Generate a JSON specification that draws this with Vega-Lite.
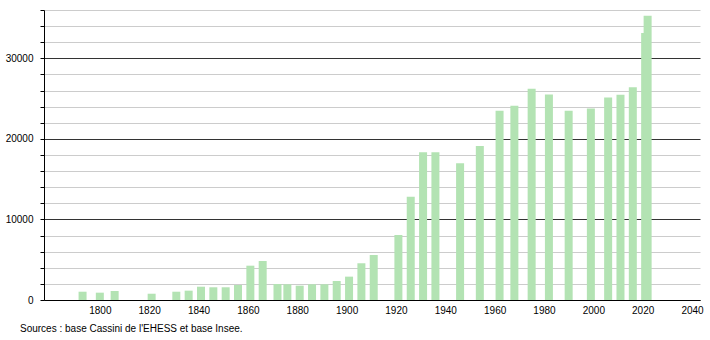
{
  "$schema": "https://vega.github.io/schema/vega-lite/v6.json",
  "width": 656,
  "height": 290,
  "autosize": {"type": "none"},
  "padding": {"left": 44, "top": 10, "right": 10, "bottom": 40},
  "background": "white",
  "config": {"view": {"stroke": null}, "font": "Liberation Sans"},
  "data": {"values": [
    {"year": 1793, "pop": 1030},
    {"year": 1800, "pop": 910},
    {"year": 1806, "pop": 1120},
    {"year": 1821, "pop": 780},
    {"year": 1831, "pop": 1030},
    {"year": 1836, "pop": 1160},
    {"year": 1841, "pop": 1650},
    {"year": 1846, "pop": 1580},
    {"year": 1851, "pop": 1580},
    {"year": 1856, "pop": 1860},
    {"year": 1861, "pop": 4260},
    {"year": 1866, "pop": 4840},
    {"year": 1872, "pop": 1990},
    {"year": 1876, "pop": 1950},
    {"year": 1881, "pop": 1780},
    {"year": 1886, "pop": 1950},
    {"year": 1891, "pop": 1950},
    {"year": 1896, "pop": 2360},
    {"year": 1901, "pop": 2900},
    {"year": 1906, "pop": 4560},
    {"year": 1911, "pop": 5590},
    {"year": 1921, "pop": 8070},
    {"year": 1926, "pop": 12830},
    {"year": 1931, "pop": 18340},
    {"year": 1936, "pop": 18340},
    {"year": 1946, "pop": 16980},
    {"year": 1954, "pop": 19130},
    {"year": 1962, "pop": 23480},
    {"year": 1968, "pop": 24100},
    {"year": 1975, "pop": 26210},
    {"year": 1982, "pop": 25500},
    {"year": 1990, "pop": 23480},
    {"year": 1999, "pop": 23770},
    {"year": 2006, "pop": 25130},
    {"year": 2011, "pop": 25470},
    {"year": 2016, "pop": 26420},
    {"year": 2021, "pop": 33130},
    {"year": 2022, "pop": 35280}
  ]},
  "layer": [
    {
      "mark": {"type": "bar", "width": 8, "color": "#b3e3b3"},
      "encoding": {
        "x": {
          "field": "year", "type": "quantitative",
          "scale": {"domain": [1779.4, 2041.2], "nice": false, "zero": false},
          "axis": {
            "title": null,
            "values": [1800, 1820, 1840, 1860, 1880, 1900, 1920, 1940, 1960, 1980, 2000, 2020, 2040],
            "format": "d",
            "ticks": false,
            "grid": false,
            "domainColor": "#000000",
            "domainWidth": 1,
            "labelFontSize": 10,
            "labelColor": "#000000",
            "labelPadding": 5,
            "labelFont": "Liberation Sans"
          }
        },
        "y": {
          "field": "pop", "type": "quantitative",
          "scale": {"domain": [0, 36000], "nice": false},
          "axis": {
            "title": null,
            "values": [0, 2000, 4000, 6000, 8000, 10000, 12000, 14000, 16000, 18000, 20000, 22000, 24000, 26000, 28000, 30000, 32000, 34000, 36000],
            "labelExpr": "datum.value % 10000 === 0 ? datum.value : ''",
            "grid": true,
            "gridColor": {"condition": {"test": "datum.value % 10000 === 0", "value": "#333333"}, "value": "#cccccc"},
            "gridWidth": 1,
            "domainColor": "#000000",
            "tickColor": "#000000",
            "tickSize": 4,
            "labelFontSize": 10,
            "labelColor": "#000000",
            "labelPadding": 7,
            "labelFont": "Liberation Sans"
          }
        }
      }
    },
    {
      "data": {"values": [{"t": "Sources : base Cassini de l'EHESS et base Insee."}]},
      "mark": {"type": "text", "align": "left", "baseline": "middle", "fontSize": 10, "font": "Liberation Sans", "color": "#000000", "x": -24, "y": 319},
      "encoding": {"text": {"field": "t"}}
    }
  ]
}
